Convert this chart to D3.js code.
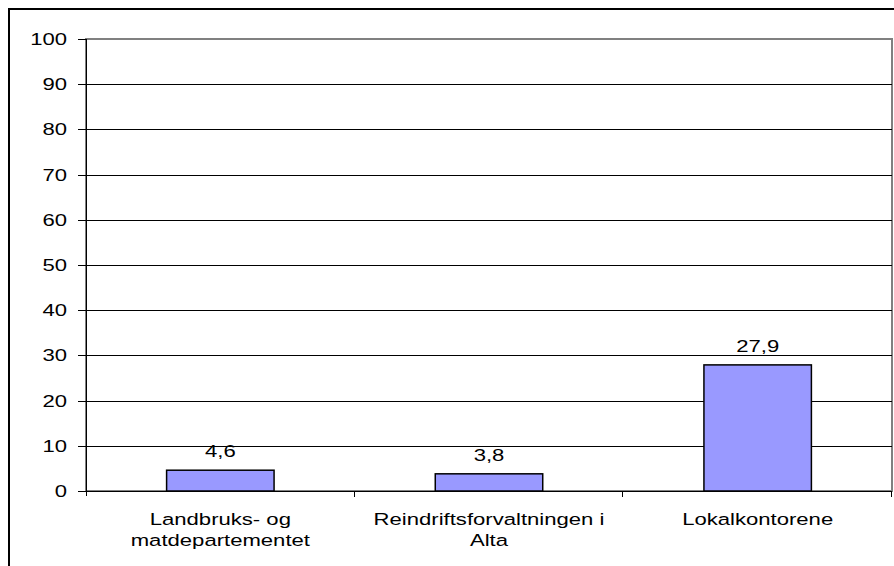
<!DOCTYPE html>
<html>
<head>
<meta charset="utf-8">
<script src="https://cdn.jsdelivr.net/npm/d3@7"></script>
<style>
    body { margin: 0; background: #fff; }
    svg { display: block; }
    text { font-family: "Liberation Sans", Arial, sans-serif; fill: #000; }
</style>
</head>
<body>
<script>
// chart data
var categories = [
    ['Landbruks- og', 'matdepartementet'],
    ['Reindriftsforvaltningen i', 'Alta'],
    ['Lokalkontorene']
];
var values = [4.6, 3.8, 27.9];
var valueLabels = ['4,6', '3,8', '27,9'];
var yTicks = [0, 10, 20, 30, 40, 50, 60, 70, 80, 90, 100];

var width = 894,
    height = 566,
    fontSize = 17,
    stretch = 1.3;   // the original text is wide, stretch it sideways

var plot = { left: 86, top: 39, right: 892, bottom: 491 };

var svg = d3.select('body')
    .append('svg')
    .attr('width', width)
    .attr('height', height);

// outer frame
svg.append('rect')
    .attr('x', 9)
    .attr('y', 9)
    .attr('width', 1000)
    .attr('height', 1000)
    .attr('fill', 'none')
    .attr('stroke', '#000')
    .attr('stroke-width', 2);

var x = d3.scaleBand()
    .domain(d3.range(categories.length))
    .range([plot.left, plot.right])
    .padding(0);

var y = d3.scaleLinear()
    .domain([0, 100])
    .range([plot.bottom, plot.top]);

// plot area border
svg.append('rect')
    .attr('x', plot.left)
    .attr('y', plot.top)
    .attr('width', plot.right - plot.left)
    .attr('height', plot.bottom - plot.top)
    .attr('fill', 'none')
    .attr('stroke', '#808080')
    .attr('stroke-width', 2);

// gridlines
svg.append('g')
    .selectAll('line')
    .data(yTicks.filter(function(d) { return d > 0 && d < 100; }))
    .enter()
    .append('line')
    .attr('x1', plot.left)
    .attr('x2', plot.right)
    .attr('y1', function(d) { return Math.round(y(d)) + 0.5; })
    .attr('y2', function(d) { return Math.round(y(d)) + 0.5; })
    .attr('stroke', '#000')
    .attr('stroke-width', 1);

function stretched(sel) {
    sel.attr('transform', function() {
        var t = d3.select(this);
        return 'translate(' + t.attr('data-x') + ',' + t.attr('data-y') + ') scale(' + stretch + ',1)';
    });
}

// y axis
var yAxis = svg.append('g');
yAxis.append('line')
    .attr('x1', plot.left + 0.5)
    .attr('x2', plot.left + 0.5)
    .attr('y1', plot.top)
    .attr('y2', plot.bottom + 5)
    .attr('stroke', '#000');

yAxis.selectAll('line.tick')
    .data(yTicks)
    .enter()
    .append('line')
    .attr('class', 'tick')
    .attr('x1', plot.left - 8)
    .attr('x2', plot.left)
    .attr('y1', function(d) { return Math.round(y(d)) + 0.5; })
    .attr('y2', function(d) { return Math.round(y(d)) + 0.5; })
    .attr('stroke', '#000');

yAxis.selectAll('text')
    .data(yTicks)
    .enter()
    .append('text')
    .attr('data-x', 67)
    .attr('data-y', function(d) { return y(d) + 6; })
    .attr('text-anchor', 'end')
    .style('font-size', fontSize + 'px')
    .text(function(d) { return d; })
    .call(stretched);

// x axis
var xAxis = svg.append('g');
xAxis.append('line')
    .attr('x1', plot.left)
    .attr('x2', plot.right)
    .attr('y1', plot.bottom + 0.5)
    .attr('y2', plot.bottom + 0.5)
    .attr('stroke', '#000');

xAxis.selectAll('line.tick')
    .data(d3.range(categories.length))
    .enter()
    .append('line')
    .attr('class', 'tick')
    .attr('x1', function(i) { return Math.round(x(i) + x.bandwidth()) - 0.5; })
    .attr('x2', function(i) { return Math.round(x(i) + x.bandwidth()) - 0.5; })
    .attr('y1', plot.bottom)
    .attr('y2', plot.bottom + 6)
    .attr('stroke', '#000');

var catLabels = xAxis.selectAll('g.cat')
    .data(categories)
    .enter()
    .append('g')
    .attr('class', 'cat');

catLabels.each(function(lines, i) {
    d3.select(this).selectAll('text')
        .data(lines)
        .enter()
        .append('text')
        .attr('data-x', x(i) + x.bandwidth() / 2)
        .attr('data-y', function(d, j) { return 525 + j * 21; })
        .attr('text-anchor', 'middle')
        .style('font-size', fontSize + 'px')
        .text(function(d) { return d; })
        .call(stretched);
});

// bars
var barWidth = x.bandwidth() * 0.4;

svg.append('g')
    .selectAll('rect')
    .data(values)
    .enter()
    .append('rect')
    .attr('x', function(d, i) { return x(i) + (x.bandwidth() - barWidth) / 2; })
    .attr('y', function(d) { return y(d); })
    .attr('width', barWidth)
    .attr('height', function(d) { return y(0) - y(d); })
    .attr('fill', '#9999ff')
    .attr('stroke', '#000')
    .attr('stroke-width', 1.5);

// value labels
svg.append('g')
    .selectAll('text')
    .data(values)
    .enter()
    .append('text')
    .attr('data-x', function(d, i) { return x(i) + x.bandwidth() / 2; })
    .attr('data-y', function(d) { return y(d) - 13; })
    .attr('text-anchor', 'middle')
    .style('font-size', fontSize + 'px')
    .text(function(d, i) { return valueLabels[i]; })
    .call(stretched);
</script>
</body>
</html>
